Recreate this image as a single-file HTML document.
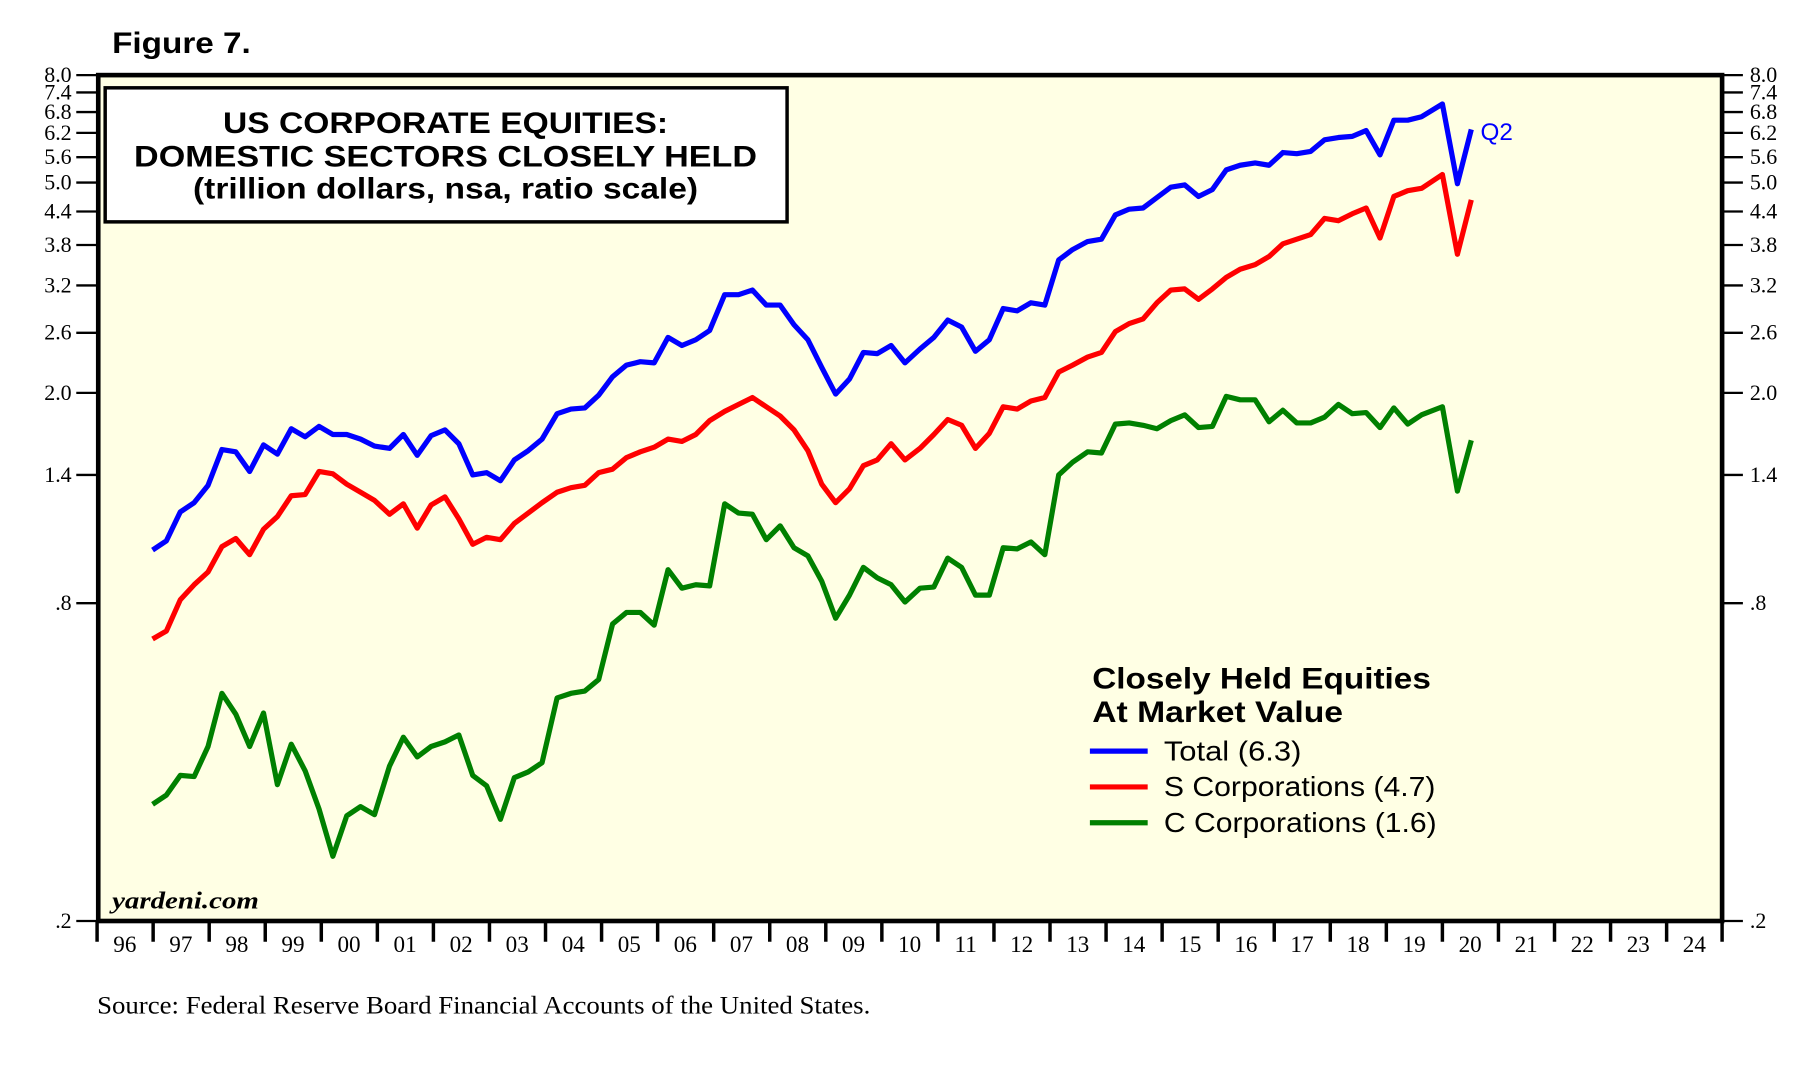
<!DOCTYPE html>
<html><head><meta charset="utf-8"><style>html,body{margin:0;padding:0;background:#fff;}svg{display:block}</style></head>
<body>
<svg width="1803" height="1077" viewBox="0 0 1560 932" preserveAspectRatio="none" xmlns="http://www.w3.org/2000/svg">
<rect width="1560" height="932" fill="#fff"/>
<text x="97" y="46" font-family="Liberation Sans, sans-serif" font-weight="bold" font-size="26" textLength="120" lengthAdjust="spacingAndGlyphs">Figure 7.</text>
<rect x="85" y="65" width="1405" height="732" fill="#FFFFE4" stroke="#000" stroke-width="4"/>
<g font-family="Liberation Serif, serif" font-size="19" fill="#000">
<g text-anchor="end">
<text x="62" y="71">8.0</text><text x="62" y="86">7.4</text><text x="62" y="103">6.8</text><text x="62" y="121">6.2</text><text x="62" y="142">5.6</text><text x="62" y="164">5.0</text><text x="62" y="189">4.4</text><text x="62" y="218">3.8</text><text x="62" y="253">3.2</text><text x="62" y="294">2.6</text><text x="62" y="346">2.0</text><text x="62" y="417">1.4</text><text x="62" y="528">.8</text><text x="62" y="803">.2</text>
</g>
<g>
<text x="1514" y="71">8.0</text><text x="1514" y="86">7.4</text><text x="1514" y="103">6.8</text><text x="1514" y="121">6.2</text><text x="1514" y="142">5.6</text><text x="1514" y="164">5.0</text><text x="1514" y="189">4.4</text><text x="1514" y="218">3.8</text><text x="1514" y="253">3.2</text><text x="1514" y="294">2.6</text><text x="1514" y="346">2.0</text><text x="1514" y="417">1.4</text><text x="1514" y="528">.8</text><text x="1514" y="803">.2</text>
</g>
</g>
<g stroke="#000" stroke-width="2">
<path d="M66 65H85M66 80H85M66 97H85M66 115H85M66 136H85M66 158H85M66 183H85M66 212H85M66 247H85M66 288H85M66 340H85M66 411H85M66 522H85M66 797H85"/>
<path d="M1490 65H1508M1490 80H1508M1490 97H1508M1490 115H1508M1490 136H1508M1490 158H1508M1490 183H1508M1490 212H1508M1490 247H1508M1490 288H1508M1490 340H1508M1490 411H1508M1490 522H1508M1490 797H1508"/>
</g>
<g stroke="#000" stroke-width="3">
<path d="M84 797V815M132.5 797V815M181 797V815M229.5 797V815M278 797V815M326.5 797V815M375 797V815M423.5 797V815M472 797V815M520.5 797V815M569 797V815M617.5 797V815M666 797V815M714.5 797V815M763 797V815M811.5 797V815M860 797V815M908.5 797V815M957 797V815M1005.5 797V815M1054 797V815M1102.5 797V815M1151 797V815M1199.5 797V815M1248 797V815M1296.5 797V815M1345 797V815M1393.5 797V815M1442 797V815M1490 797V815"/>
</g>
<g font-family="Liberation Serif, serif" font-size="20" text-anchor="middle">
<text x="108" y="824">96</text><text x="156.5" y="824">97</text><text x="205" y="824">98</text><text x="253.5" y="824">99</text><text x="302" y="824">00</text><text x="350.5" y="824">01</text><text x="399" y="824">02</text><text x="447.5" y="824">03</text><text x="496" y="824">04</text><text x="544.5" y="824">05</text><text x="593" y="824">06</text><text x="641.5" y="824">07</text><text x="690" y="824">08</text><text x="738.5" y="824">09</text><text x="787" y="824">10</text><text x="835.5" y="824">11</text><text x="884" y="824">12</text><text x="932.5" y="824">13</text><text x="981" y="824">14</text><text x="1029.5" y="824">15</text><text x="1078" y="824">16</text><text x="1126.5" y="824">17</text><text x="1175" y="824">18</text><text x="1223.5" y="824">19</text><text x="1272" y="824">20</text><text x="1320.5" y="824">21</text><text x="1369" y="824">22</text><text x="1417.5" y="824">23</text><text x="1466" y="824">24</text>
</g>
<rect x="91" y="76" width="590" height="116" fill="#fff" stroke="#000" stroke-width="3"/>
<g font-family="Liberation Sans, sans-serif" font-weight="bold" font-size="26">
<text x="193" y="115" textLength="385" lengthAdjust="spacingAndGlyphs">US CORPORATE EQUITIES:</text>
<text x="116" y="144" textLength="539" lengthAdjust="spacingAndGlyphs">DOMESTIC SECTORS  CLOSELY HELD</text>
<text x="167" y="172" textLength="437" lengthAdjust="spacingAndGlyphs">(trillion dollars, nsa, ratio scale)</text>
</g>
<g fill="none" stroke-width="4.5" stroke-linejoin="round">
<polyline stroke="#0000FF" points="132,476 144,468 156,443 168,435 180,420 192,389 204,391 216,408 228,385 240,393 252,371 264,378 276,369 288,376 300,376 312,380 324,386 337,388 349,376 361,394 373,377 385,372 397,384 409,411 421,409 433,416 445,398 457,390 469,380 482,358 494,354 506,353 518,342 530,326 542,316 554,313 566,314 578,292 590,299 602,294 614,286 627,255 639,255 651,251 663,264 675,264 687,281 699,294 711,318 723,341 735,328 747,305 759,306 771,299 783,314 796,302 808,292 820,277 832,283 844,304 856,294 868,267 880,269 892,262 904,264 916,225 928,216 941,209 953,207 965,186 977,181 989,180 1001,171 1013,162 1025,160 1037,170 1049,164 1061,147 1073,143 1086,141 1098,143 1110,132 1122,133 1134,131 1146,121 1158,119 1170,118 1182,113 1194,134 1206,104 1218,104 1230,101 1248,90 1261,159 1273,112"/>
<polyline stroke="#FF0000" points="132,553 144,546 156,519 168,506 180,495 192,473 204,466 216,480 228,458 240,447 252,429 264,428 276,408 288,410 300,419 312,426 324,433 337,445 349,436 361,457 373,437 385,430 397,449 409,471 421,465 433,467 445,453 457,444 469,435 482,426 494,422 506,420 518,409 530,406 542,396 554,391 566,387 578,380 590,382 602,376 614,364 627,356 639,350 651,344 663,352 675,360 687,372 699,390 711,419 723,435 735,423 747,403 759,398 771,384 783,398 796,388 808,376 820,363 832,368 844,388 856,375 868,352 880,354 892,347 904,344 916,322 928,316 941,309 953,305 965,287 977,280 989,276 1001,262 1013,251 1025,250 1037,259 1049,250 1061,240 1073,233 1086,229 1098,222 1110,211 1122,207 1134,203 1146,189 1158,191 1170,185 1182,180 1194,206 1206,170 1218,165 1230,163 1248,151 1261,220 1273,173"/>
<polyline stroke="#008000" points="132,696 144,688 156,671 168,672 180,646 192,600 204,618 216,646 228,617 240,679 252,644 264,667 276,700 288,741 300,706 312,698 324,705 337,663 349,638 361,655 373,646 385,642 397,636 409,671 421,680 433,709 445,673 457,668 469,660 482,604 494,600 506,598 518,588 530,540 542,530 554,530 566,541 578,493 590,509 602,506 614,507 627,436 639,444 651,445 663,467 675,455 687,474 699,481 711,503 723,535 735,515 747,491 759,500 771,506 783,521 796,509 808,508 820,483 832,491 844,515 856,515 868,474 880,475 892,469 904,480 916,411 928,400 941,391 953,392 965,367 977,366 989,368 1001,371 1013,364 1025,359 1037,370 1049,369 1061,343 1073,346 1086,346 1098,365 1110,355 1122,366 1134,366 1146,361 1158,350 1170,358 1182,357 1194,370 1206,353 1218,367 1230,359 1248,352 1261,425 1273,381"/>
</g>
<text x="1281" y="121" font-family="Liberation Sans, sans-serif" font-size="21" fill="#0000FF">Q2</text>
<g font-family="Liberation Sans, sans-serif">
<text x="945" y="596" font-weight="bold" font-size="26" textLength="293" lengthAdjust="spacingAndGlyphs">Closely Held Equities</text>
<text x="945" y="625" font-weight="bold" font-size="26" textLength="217" lengthAdjust="spacingAndGlyphs">At Market Value</text>
<text x="1007" y="658" font-size="24" textLength="119" lengthAdjust="spacingAndGlyphs">Total (6.3)</text>
<text x="1007" y="689" font-size="24" textLength="235" lengthAdjust="spacingAndGlyphs">S Corporations (4.7)</text>
<text x="1007" y="720" font-size="24" textLength="236" lengthAdjust="spacingAndGlyphs">C Corporations (1.6)</text>
</g>
<g stroke-width="4.5">
<line x1="943" y1="650" x2="993" y2="650" stroke="#0000FF"/>
<line x1="943" y1="681" x2="993" y2="681" stroke="#FF0000"/>
<line x1="943" y1="712" x2="993" y2="712" stroke="#008000"/>
</g>
<text x="97" y="786" font-family="Liberation Serif, serif" font-weight="bold" font-style="italic" font-size="21" textLength="127" lengthAdjust="spacingAndGlyphs">yardeni.com</text>
<text x="84" y="877" font-family="Liberation Serif, serif" font-size="22" textLength="669" lengthAdjust="spacingAndGlyphs">Source: Federal Reserve Board Financial Accounts of the United States.</text>
</svg>
</body></html>
